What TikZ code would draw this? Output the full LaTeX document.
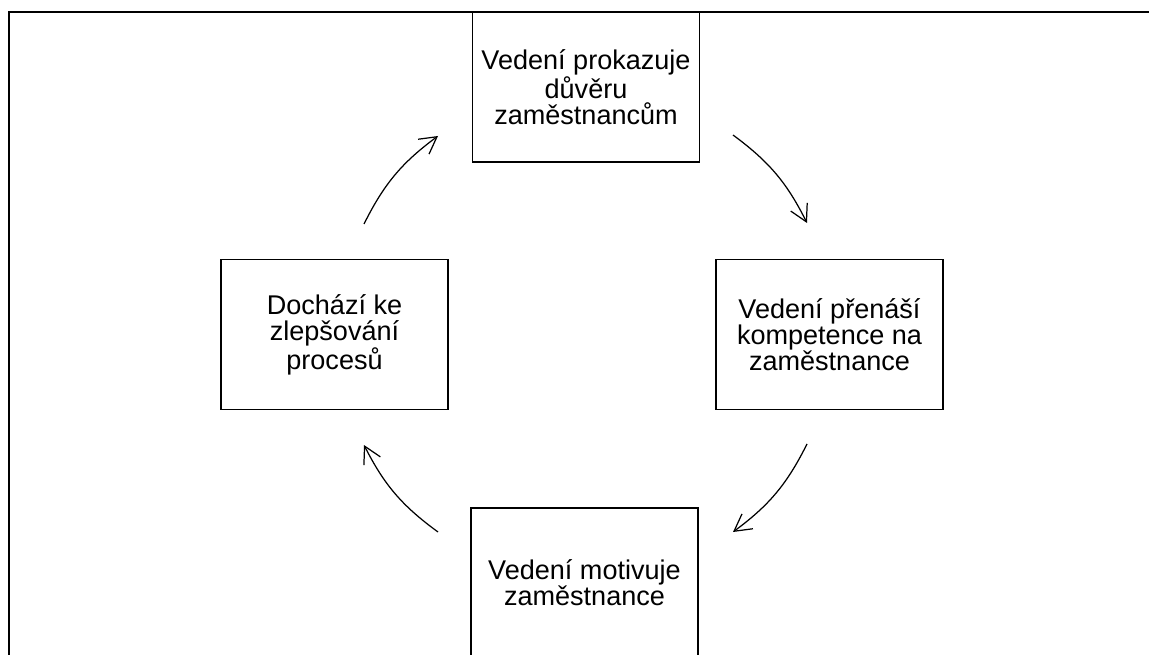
\documentclass[tikz,border=0pt]{standalone}
\usepackage{fontspec}
\setmainfont{Liberation Sans}
\usetikzlibrary{arrows.meta}

\tikzset{
  stepbox/.style={draw, line width=1.1pt, minimum width=4.54cm, minimum height=3cm,
    align=center, inner sep=0pt, font=\fontsize{15.4pt}{14.8pt}\selectfont},
  cyc/.style={line width=0.7pt, -{Straight Barb[length=9.5pt, width=10.5pt]}, bend left=13.5}
}

\begin{document}
\begin{tikzpicture}[x=0.02cm, y=-0.02cm]
  %%%%% START %%%%%
  \useasboundingbox (0, 0) rectangle (1149, 655);

  % frame
  \draw[line width=1.1pt] (9, 655) -- (9, 12) -- (1149, 12);

  % boxes
  \node[stepbox] (trust) at (586, 87) {Vedení prokazuje\\důvěru\\zaměstnancům};
  \node[stepbox] (transfer) at (829.5, 334.5) {Vedení přenáší\\kompetence na\\zaměstnance};
  \node[stepbox] (motivate) at (584.5, 583) {Vedení motivuje\\zaměstnance};
  \node[stepbox] (improve) at (334.5, 334.5) {Dochází ke\\zlepšování\\procesů};

  % arrow ends
  \coordinate (a1s) at (364, 224);  \coordinate (a1e) at (438, 136);
  \coordinate (a2s) at (733, 135);  \coordinate (a2e) at (807, 223);
  \coordinate (a3s) at (807, 444);  \coordinate (a3e) at (733, 532);
  \coordinate (a4s) at (438, 532);  \coordinate (a4e) at (364, 445);

  \draw[cyc] (a1s) to (a1e);
  \draw[cyc] (a2s) to (a2e);
  \draw[cyc] (a3s) to (a3e);
  \draw[cyc] (a4s) to (a4e);
  %%%%% END %%%%%
\end{tikzpicture}
\end{document}
